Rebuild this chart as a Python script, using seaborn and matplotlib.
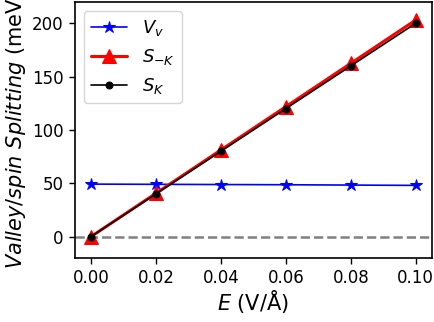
import matplotlib
matplotlib.use("Agg")
import matplotlib.pyplot as plt
import seaborn as sns
import pandas as pd

E = [0.00, 0.02, 0.04, 0.06, 0.08, 0.10]
Vv = [49.2, 49.0, 48.8, 48.6, 48.3, 48.0]
S_mK = [0.0, 40.6, 81.2, 121.8, 162.4, 203.0]
S_K = [0.0, 40.0, 80.0, 120.0, 160.0, 200.0]

sns.set_style("ticks")
plt.rcParams['font.family'] = ['DejaVu Sans']
plt.rcParams['mathtext.fontset'] = 'dejavusans'
for k in ["text.color", "axes.labelcolor", "xtick.color", "ytick.color"]:
    plt.rcParams[k] = "black"

fig = plt.figure(figsize=(4.35, 3.22), dpi=100)
ax = fig.add_axes([0.172, 0.199, 0.821, 0.795])

df = pd.DataFrame({"E": E, "Vv": Vv, "SmK": S_mK, "SK": S_K})
ax.axhline(0, color="gray", ls="--", lw=1.8, zorder=0)
sns.lineplot(data=df, x="E", y="Vv", ax=ax, color="blue", marker="*", markersize=9,
             markeredgecolor="blue", lw=1.2, label="$V_v$")
sns.lineplot(data=df, x="E", y="SmK", ax=ax, color="red", marker="^", markersize=10,
             markeredgecolor="red", lw=2.2, label="$S_{-K}$")
sns.lineplot(data=df, x="E", y="SK", ax=ax, color="black", marker="o", markersize=5,
             markeredgecolor="black", lw=1.2, label="$S_K$")

ax.set_ylim(-20, 220)
ax.set_xticks(E)
ax.set_xticklabels([f"{v:.2f}" for v in E])
ax.set_yticks([0, 50, 100, 150, 200])
ax.tick_params(labelsize=12, direction="out", length=4.5, width=1.0)
ax.set_xlabel("$E$ (V/Å)", fontsize=15, labelpad=1)
ax.set_ylabel("$Valley/spin\\ Splitting$ (meV)", fontsize=15, labelpad=3)
for s in ax.spines.values():
    s.set_linewidth(1.2)
    s.set_color("black")
ax.legend(loc="upper left", fontsize=13, handlelength=2, frameon=True,
          borderaxespad=0.5)

fig.savefig("out.png", dpi=100)
